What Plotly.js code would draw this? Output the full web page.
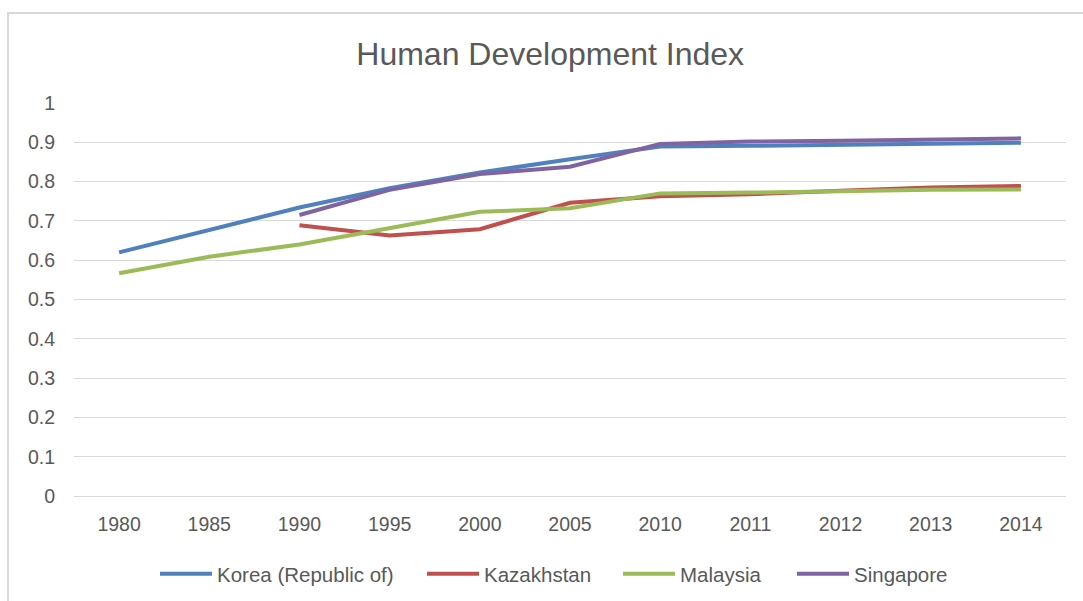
<!DOCTYPE html>
<html>
<head>
<meta charset="utf-8">
<script src="https://cdn.plot.ly/plotly-3.0.1.min.js"></script>
<style>
  html, body { margin: 0; padding: 0; background: #ffffff; overflow: hidden; }
  #wrap { position: relative; width: 1083px; height: 601px; overflow: hidden; background: #fff; }
  #chart { position: absolute; left: 0; top: 0; width: 1083px; height: 601px; }
  #frame { position: absolute; left: 7px; top: 12px; width: 1200px; height: 800px; border: 2px solid #d9d9d9; pointer-events: none; }
</style>
</head>
<body>
<div id="wrap">
  <div id="chart"></div>
  <div id="frame"></div>
</div>
<script>
const years = ["1980", "1985", "1990", "1995", "2000", "2005", "2010", "2011", "2012", "2013", "2014"];
const korea = [0.620, 0.677, 0.734, 0.783, 0.823, 0.857, 0.889, 0.891, 0.893, 0.896, 0.899];
const kazakhstan = [null, null, 0.689, 0.663, 0.679, 0.746, 0.763, 0.768, 0.777, 0.785, 0.789];
const malaysia = [0.567, 0.609, 0.640, 0.681, 0.723, 0.732, 0.770, 0.772, 0.776, 0.779, 0.780];
const singapore = [null, null, 0.715, 0.779, 0.819, 0.838, 0.896, 0.902, 0.904, 0.908, 0.910];
const yTicks = [0, 0.1, 0.2, 0.3, 0.4, 0.5, 0.6, 0.7, 0.8, 0.9, 1];
const yTickText = ["0", "0.1", "0.2", "0.3", "0.4", "0.5", "0.6", "0.7", "0.8", "0.9", "1"];

const seriesNames = ["Korea (Republic of)", "Kazakhstan", "Malaysia", "Singapore"];
const seriesData = [korea, kazakhstan, malaysia, singapore];
const colors = ["#4f81bd", "#c0504d", "#9bbb59", "#8064a2"];
const legendIds = ["legend", "legend2", "legend3", "legend4"];
// left edge (pixels) of each legend entry's line sample in the reference
const legendStartPx = [161, 428, 624, 798];

const traces = seriesData.map((vals, i) => ({
  type: "scatter",
  mode: "lines",
  name: seriesNames[i],
  x: years,
  y: vals,
  connectgaps: false,
  legend: legendIds[i],
  line: { color: colors[i], width: 4 },
  hoverinfo: "skip"
}));

const font = "'Liberation Sans', Arial, sans-serif";
const W = 1083, H = 601;

const layout = {
  width: W,
  height: H,
  paper_bgcolor: "rgba(0,0,0,0)",
  plot_bgcolor: "rgba(0,0,0,0)",
  margin: { l: 74, r: 17, t: 103, b: 105, pad: 0, autoexpand: false },
  title: {
    text: "Human Development Index",
    font: { family: font, size: 32, color: "#595959" },
    x: 0.508, xanchor: "center",
    y: 0.91, yanchor: "middle"
  },
  font: { family: font, color: "#595959", size: 19 },
  xaxis: {
    type: "category",
    range: [-0.5, 10.5],
    showgrid: false,
    zeroline: false,
    showline: false,
    ticks: "",
    tickfont: { family: font, size: 19.5, color: "#595959" },
    ticklabelstandoff: 14,
    automargin: false,
    fixedrange: true
  },
  yaxis: {
    range: [0, 1],
    tickvals: yTicks,
    ticktext: yTickText,
    showgrid: true,
    gridcolor: "#d9d9d9",
    gridwidth: 1,
    zeroline: true,
    zerolinecolor: "#d9d9d9",
    zerolinewidth: 1,
    showline: false,
    ticks: "",
    tickfont: { family: font, size: 19.5, color: "#595959" },
    ticklabelstandoff: 18,
    automargin: false,
    fixedrange: true
  },
  showlegend: true,
  hovermode: false
};

legendIds.forEach((id, i) => {
  layout[id] = {
    orientation: "h",
    xref: "container", yref: "container",
    x: (legendStartPx[i] - 6) / W, xanchor: "left",
    y: 1 - 574 / H, yanchor: "middle",
    font: { family: font, size: 20.5, color: "#595959" },
    itemwidth: 52,
    bgcolor: "rgba(0,0,0,0)"
  };
});

Plotly.newPlot("chart", traces, layout, { displayModeBar: false, staticPlot: true });
</script>
</body>
</html>
